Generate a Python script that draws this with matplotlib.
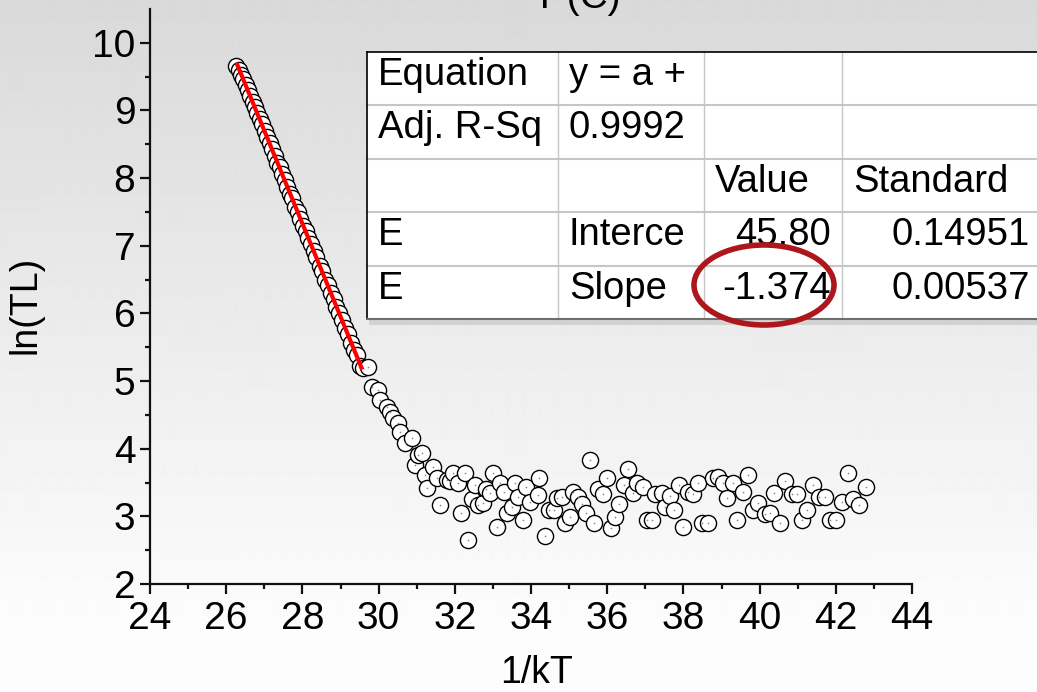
import numpy as np
import matplotlib
matplotlib.use("Agg")
import matplotlib.pyplot as plt
from matplotlib.patches import Rectangle, Ellipse

plt.rcParams['font.family'] = ['Liberation Sans', 'DejaVu Sans']

# ---------------------------------------------------------------- data
# ln(TL) versus 1/kT
inv_kT = [
    26.27, 26.33, 26.39, 26.45, 26.51, 26.57, 26.63, 26.70, 26.76, 26.82,
    26.88, 26.95, 27.01, 27.08, 27.14, 27.21, 27.27, 27.34, 27.40, 27.47,
    27.54, 27.60, 27.67, 27.74, 27.81, 27.88, 27.95, 28.02, 28.09, 28.16,
    28.23, 28.30, 28.37, 28.45, 28.52, 28.59, 28.67, 28.74, 28.82, 28.89,
    28.97, 29.05, 29.12, 29.20, 29.28, 29.36, 29.44, 29.52, 29.60, 29.72,
    29.83, 29.98, 30.04, 30.22, 30.30, 30.38, 30.51, 30.56, 30.69, 30.88,
    30.96, 31.03, 31.14, 31.22, 31.27, 31.43, 31.53, 31.61, 31.80, 31.88,
    31.95, 32.08, 32.16, 32.27, 32.35, 32.45, 32.53, 32.61, 32.74, 32.82,
    32.92, 33.00, 33.11, 33.19, 33.29, 33.37, 33.50, 33.58, 33.66, 33.79,
    33.87, 33.97, 34.18, 34.22, 34.37, 34.47, 34.60, 34.68, 34.81, 34.89,
    35.02, 35.10, 35.23, 35.34, 35.44, 35.55, 35.65, 35.76, 35.89, 35.99,
    36.10, 36.20, 36.31, 36.44, 36.55, 36.68, 36.78, 36.94, 37.04, 37.18,
    37.25, 37.44, 37.52, 37.65, 37.75, 37.88, 37.99, 38.12, 38.25, 38.38,
    38.49, 38.65, 38.78, 38.91, 39.04, 39.14, 39.30, 39.41, 39.56, 39.70,
    39.83, 39.96, 40.14, 40.27, 40.38, 40.54, 40.67, 40.85, 40.98, 41.11,
    41.24, 41.40, 41.56, 41.72, 41.85, 42.01, 42.16, 42.32, 42.45, 42.61,
    42.79,
]
ln_TL = [
    9.66, 9.60, 9.53, 9.47, 9.38, 9.31, 9.22, 9.12, 9.05, 8.96,
    8.88, 8.80, 8.70, 8.61, 8.52, 8.43, 8.33, 8.23, 8.17, 8.06,
    7.97, 7.87, 7.76, 7.70, 7.58, 7.50, 7.40, 7.29, 7.22, 7.11,
    7.03, 6.92, 6.84, 6.70, 6.63, 6.50, 6.42, 6.30, 6.22, 6.10,
    6.01, 5.90, 5.78, 5.70, 5.57, 5.46, 5.38, 5.22, 5.20, 5.21,
    4.91, 4.87, 4.72, 4.61, 4.54, 4.45, 4.38, 4.25, 4.08, 4.16,
    3.76, 3.91, 3.94, 3.61, 3.42, 3.73, 3.57, 3.17, 3.54, 3.53,
    3.64, 3.49, 3.05, 3.64, 2.65, 3.26, 3.46, 3.17, 3.20, 3.40,
    3.34, 3.64, 2.84, 3.49, 3.36, 3.05, 3.14, 3.49, 3.29, 2.95,
    3.43, 3.21, 3.31, 3.57, 2.71, 3.09, 3.09, 3.27, 3.29, 2.90,
    2.99, 3.36, 3.29, 3.18, 3.05, 3.83, 2.90, 3.40, 3.33, 3.57,
    2.83, 2.99, 3.18, 3.46, 3.70, 3.34, 3.49, 3.43, 2.95, 2.95,
    3.33, 3.34, 3.14, 3.30, 3.09, 3.46, 2.84, 3.36, 3.33, 3.49,
    2.90, 2.90, 3.57, 3.58, 3.49, 3.27, 3.49, 2.95, 3.36, 3.61,
    3.09, 3.20, 3.03, 3.05, 3.34, 2.90, 3.52, 3.33, 3.33, 2.95,
    3.09, 3.46, 3.29, 3.29, 2.95, 2.95, 3.21, 3.64, 3.26, 3.17,
    3.43,
]

# linear fit results (y = a + b*x)
fit_intercept = 45.80
fit_intercept_se = 0.14951
fit_slope = -1.374
fit_slope_se = 0.00537
fit_adj_r2 = 0.9992
fit_range = [26.27, 29.57]

x_ticks = [24, 26, 28, 30, 32, 34, 36, 38, 40, 42, 44]
y_ticks = [2, 3, 4, 5, 6, 7, 8, 9, 10]

# ---------------------------------------------------------------- figure
W, H, DPI = 1037, 692, 100
fig = plt.figure(figsize=(W / DPI, H / DPI), dpi=DPI)

# soft vertical grey gradient behind everything
bg = fig.add_axes([0, 0, 1, 1], zorder=-10)
rows = np.arange(H)
shade = np.clip(217 + 37 * rows / 650.0, 0, 253) / 255.0
bg.imshow(shade[:, None], cmap='gray', vmin=0, vmax=1, aspect='auto',
          extent=[0, 1, 0, 1], origin='upper', interpolation='bilinear')
bg.axis('off')

ax = fig.add_axes([150 / W, 1 - 584 / H, 762 / W, 575 / H])
ax.set_facecolor('none')

ax.scatter(inv_kT, ln_TL, s=135, facecolor='white', edgecolor='black',
           linewidths=1.0, zorder=3)
ax.scatter(inv_kT, ln_TL, s=1.5, color='#8a8a8a', linewidths=0, zorder=4)

xf = np.array(fit_range)
ax.plot(xf, fit_intercept + fit_slope * xf, color='#ff0000', lw=3.0,
        solid_capstyle='butt', zorder=5)

ax.set_xlim(24, 44)
ax.set_ylim(2, 10.5)
ax.set_xticks(x_ticks)
ax.set_yticks(y_ticks)
ax.set_xticks(np.arange(25, 44, 2), minor=True)
ax.set_yticks(np.arange(2.5, 10.5, 1.0), minor=True)

for side in ('top', 'right'):
    ax.spines[side].set_visible(False)
for side in ('left', 'bottom'):
    ax.spines[side].set_linewidth(1.6)
    ax.spines[side].set_color('#111111')

ax.tick_params(axis='both', which='major', direction='out', length=7.5,
               width=1.6, labelsize=28, color='#111111')
ax.tick_params(axis='both', which='minor', direction='out', length=3.8,
               width=1.6, color='#111111')
ax.tick_params(axis='x', which='major', pad=5)
ax.tick_params(axis='y', which='major', pad=3)

ax.set_xlabel('1/kT', fontsize=27, va='center')
ax.xaxis.set_label_coords((537 - 150) / 762, (584 - 673) / 575)
ax.set_ylabel('ln(TL)', fontsize=27, va='center')
ax.yaxis.set_label_coords((26 - 150) / 762, (584 - 305) / 575)

# ---------------------------------------------------------------- fit table
ov = fig.add_axes([0, 0, 1, 1], zorder=10)
ov.set_xlim(0, W)
ov.set_ylim(H, 0)
ov.axis('off')
ov.patch.set_alpha(0)

col_edges = [367, 558, 704, 842, 1045]
row_edges = [52, 105, 159, 212, 266, 319]

# drop shadow and cell background
ov.add_patch(Rectangle((369, 319), W, 6, facecolor='#d2d2d2', edgecolor='none'))
ov.add_patch(Rectangle((col_edges[0], row_edges[0]), W,
                       row_edges[-1] - row_edges[0],
                       facecolor='white', edgecolor='none'))
for y in row_edges[1:-1]:
    ov.plot([col_edges[0], W], [y, y], color='#c6c6c6', lw=1.5)
for x in col_edges[1:-1]:
    ov.plot([x, x], [row_edges[0], row_edges[-1]], color='#c6c6c6', lw=1.0)
ov.plot([col_edges[0], W], [row_edges[0], row_edges[0]], color='black', lw=1.2)
ov.plot([col_edges[0], col_edges[0]], [row_edges[0], row_edges[-1]],
        color='black', lw=1.2)
ov.plot([col_edges[0], W], [row_edges[-1], row_edges[-1]], color='#6e6e6e',
        lw=1.5)

cells = [
    [("Equation", 'l'), ("y = a +", 'l'), ("", 'l'), ("", 'l')],
    [("Adj. R-Sq", 'l'), (f"{fit_adj_r2:.4f}", 'l'), ("", 'l'), ("", 'l')],
    [("", 'l'), ("", 'l'), ("Value", 'l'), ("Standard", 'l')],
    [("E", 'l'), ("Interce", 'l'), (f"{fit_intercept:.2f}", 'r'),
     (f"{fit_intercept_se:.5f}", 'r')],
    [("E", 'l'), ("Slope", 'l'), (f"{fit_slope:.3f}", 'r'),
     (f"{fit_slope_se:.5f}", 'r')],
]
pad = 11
for r, row in enumerate(cells):
    base = row_edges[r] + 33
    for c, (txt, al) in enumerate(row):
        if not txt:
            continue
        if al == 'l':
            ov.text(col_edges[c] + pad, base, txt, ha='left', va='baseline',
                    fontsize=27.5, color='black')
        else:
            right = col_edges[c + 1] - pad
            if c == 3:
                right = 1030
            ov.text(right, base, txt, ha='right', va='baseline',
                    fontsize=27.5, color='black')

# highlight ring around the slope value
ov.add_patch(Ellipse((764, 285), 140, 80, facecolor='none',
                     edgecolor='#ad161c', lw=4.0, zorder=12))

# top-axis caption, partly beyond the upper edge
ov.text(577, 8, 'T (C)', ha='center', va='baseline', fontsize=28,
        color='black')

fig.savefig('out.png', dpi=DPI)
